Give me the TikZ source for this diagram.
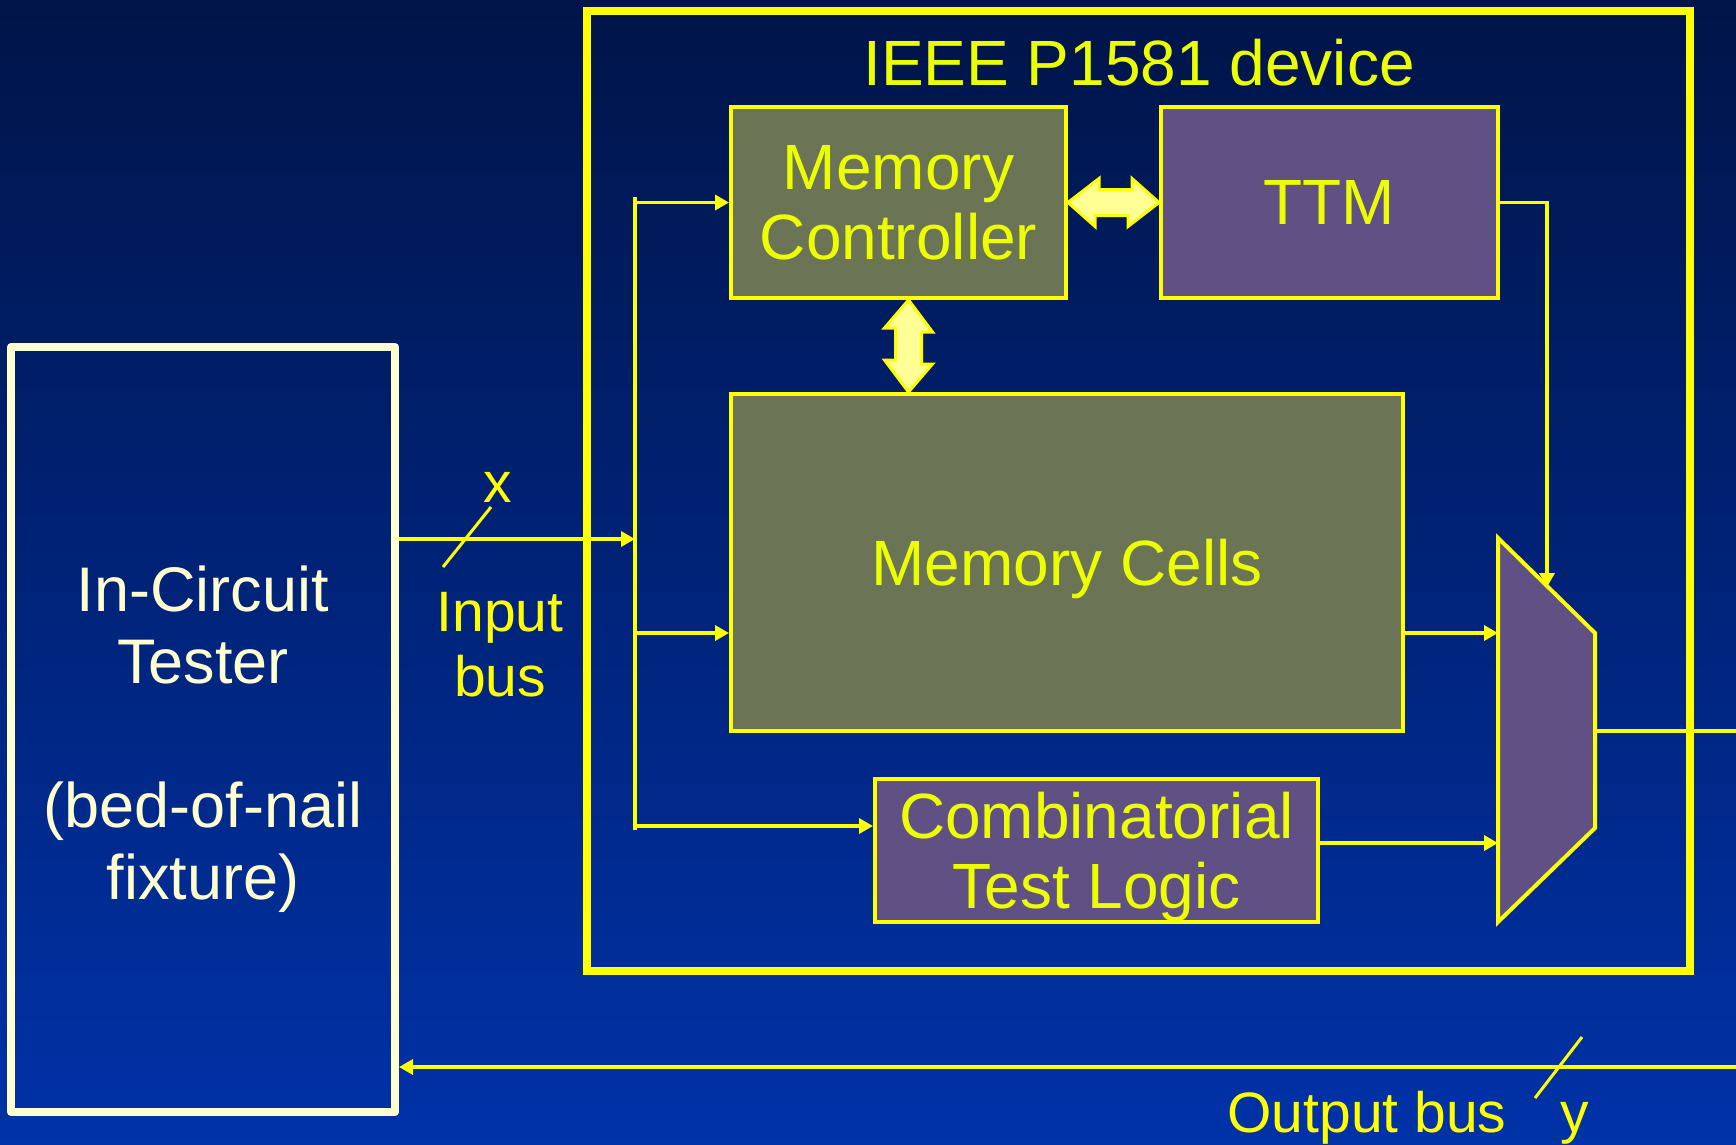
\documentclass[tikz,border=0pt]{standalone}
\usepackage{fontspec}
\setmainfont{Liberation Sans}
\usetikzlibrary{arrows.meta}

\definecolor{bgtop}{RGB}{0,20,72}
\definecolor{bgbot}{RGB}{0,50,168}
\definecolor{devyellow}{RGB}{255,255,0}
\definecolor{textyellow}{RGB}{235,255,0}
\definecolor{cream}{RGB}{255,255,208}
\definecolor{arrowfill}{RGB}{255,255,150}
\definecolor{cellfill}{RGB}{108,116,86}
\definecolor{ttmfill}{RGB}{96,80,132}

\newcommand{\blockfont}{\fontsize{64}{70}\selectfont}
\newcommand{\busfont}{\fontsize{57}{65}\selectfont}
\newcommand{\ictfont}{\fontsize{63}{72}\selectfont}

\begin{document}
\begin{tikzpicture}[x=1pt,y=-1pt,
  blockbox/.style={draw=devyellow,line width=4pt,text=textyellow,font=\blockfont,align=center,inner sep=0pt},
  cellbox/.style={blockbox,fill=cellfill},
  ttmbox/.style={blockbox,fill=ttmfill},
  wire/.style={draw=devyellow,line width=3.5pt},
  arr/.style={wire,-{Triangle[length=14pt,width=15pt]}},
  tick/.style={draw=devyellow,line width=3pt},
  fatarrow/.style={draw=devyellow,line width=3pt,fill=arrowfill,line join=miter},
  buslabel/.style={text=devyellow,font=\busfont,align=center,inner sep=0pt}]

% Background
\shade[top color=bgtop,bottom color=bgbot] (0,0) rectangle (1736,1144);
\useasboundingbox (0,0) rectangle (1736,1144);

% Device and tester
\node[draw=devyellow,line width=7.5pt,minimum width=1103pt,minimum height=960pt,inner sep=0pt] (dev) at (1138.5,491) {};
\node[draw=cream,line width=8pt,line join=round,minimum width=384pt,minimum height=765pt,inner sep=0pt] (ict) at (203,729.5) {};
\node[text=cream,font=\ictfont,align=center,inner sep=0pt] (ictlabel) at (203,739.5) {In-Circuit\\Tester\\[72pt](bed-of-nail\\fixture)};
\node[anchor=base,text=textyellow,font=\blockfont,inner sep=0pt] (title) at (1139,85) {IEEE P1581 device};

% Blocks
\node[cellbox,minimum width=335pt,minimum height=191pt] (mc) at (898.5,202.5) {Memory\\Controller};
\node[ttmbox,minimum width=337pt,minimum height=191pt] (ttm) at (1329.5,202.5) {TTM};
\node[cellbox,text depth=0pt,minimum width=672pt,minimum height=337pt] (cells) at (1067,562.5) {Memory Cells};
\node[ttmbox,minimum width=443pt,minimum height=143pt] (ctl) at (1096.5,850.5) {\rule{0pt}{60pt}Combinatorial\\Test Logic};

% Multiplexer
\coordinate (muxa) at (1498,538);
\coordinate (muxb) at (1595,633);
\coordinate (muxc) at (1595,828);
\coordinate (muxd) at (1498,922);
\filldraw[draw=devyellow,fill=ttmfill,line width=4pt] (muxa) -- (muxb) -- (muxc) -- (muxd) -- cycle;

% Input bus
\coordinate (split) at (635,539);
\coordinate (vtop) at (635,197);
\coordinate (vbot) at (635,830);
\coordinate (ctlrow) at (0,826);
\draw[arr] (split -| ict.east) -- (split);
\draw[wire] (vtop) -- (vbot);
\draw[arr] (mc.west -| split) -- (mc.west);
\draw[arr] (split |- muxb) -- (cells.west |- muxb);
\draw[arr] (split |- ctlrow) -- (ctl.west |- ctlrow);

% Into the multiplexer
\coordinate (ctlout) at (0,843);
\coordinate (ttmdown) at (1547,587);
\draw[arr] (cells.east |- muxb) -- (muxa |- muxb);
\draw[arr] (ctl.east |- ctlout) -- (muxa |- ctlout);
\draw[arr] (ttm.east) -- (ttm.east -| ttmdown) -- (ttmdown);

% Output bus
\coordinate (muxout) at (1595,731);
\coordinate (rim) at (1736,731);
\coordinate (obus) at (1736,1067);
\draw[wire] (muxout) -- (rim);
\draw[arr] (obus) -- (obus -| ict.east);

% Double arrows
\draw[fatarrow] (mc.east) -- ++(31,-24) -- ++(0,11) -- ++(33,0) -- ++(0,-11) -- (ttm.west)
  -- ++(-31,24) -- ++(0,-11) -- ++(-33,0) -- ++(0,11) -- cycle;
\coordinate (vat) at ([xshift=10pt]mc.south);
\coordinate (vab) at (vat |- cells.north);
\draw[fatarrow] (vat) -- ++(24,32) -- ++(-11,0) -- ++(0,32) -- ++(11,0) -- (vab)
  -- ++(-24,-32) -- ++(11,0) -- ++(0,-32) -- ++(-11,0) -- cycle;

% Bus ticks and labels
\coordinate (xtick) at (465,539);
\coordinate (ytick) at (1559,1067);
\draw[tick] ([shift={(-22,28)}]xtick) -- ([shift={(26,-32)}]xtick);
\draw[tick] ([shift={(-24,31)}]ytick) -- ([shift={(23,-30)}]ytick);
\node[buslabel] (xlab) at (498,487) {x};
\node[buslabel] (inlab) at (500,645) {Input\\bus};
\node[buslabel,anchor=base] (outlab) at (1367,1132) {Output bus};
\node[buslabel,anchor=base] (ylab) at (1575,1132) {y};

\end{tikzpicture}
\end{document}
